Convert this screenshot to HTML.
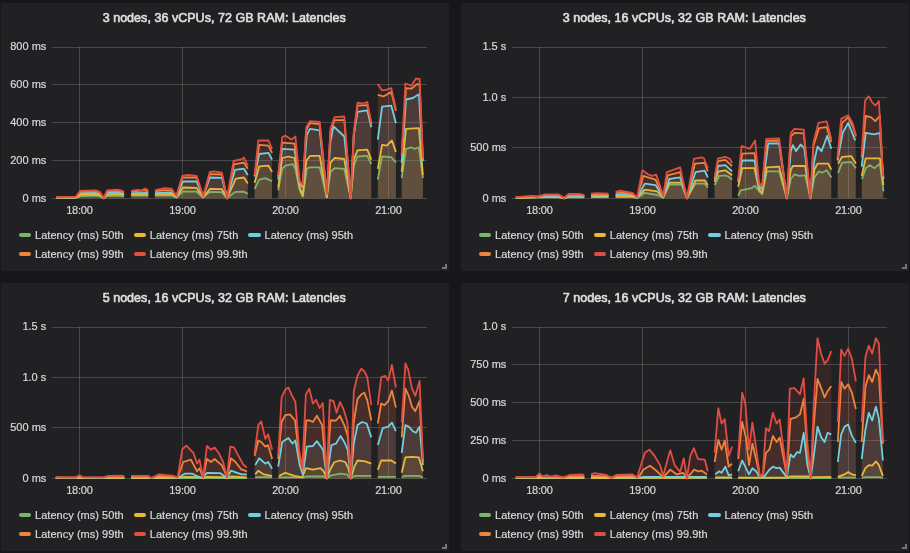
<!DOCTYPE html>
<html><head><meta charset="utf-8"><title>Latencies</title>
<style>
html,body{margin:0;padding:0;background:#161719;}
body{width:910px;height:553px;position:relative;overflow:hidden;font-family:"Liberation Sans",sans-serif;color:#d8d9da;}
.panel{position:absolute;width:447.9px;height:268.2px;background:#212124;border-radius:2px;}
#chart{position:absolute;left:0;top:0;}
.title{position:absolute;text-align:center;font-size:12.5px;line-height:16px;white-space:nowrap;color:#dcddde;-webkit-text-stroke:0.65px #dcddde;letter-spacing:0.035px;}
.yl,.xl,.lg{-webkit-text-stroke:0.2px #d8d9da;}
.yl{position:absolute;width:46.3px;text-align:right;font-size:11px;line-height:14px;white-space:nowrap;}
.xl{position:absolute;width:40px;text-align:center;font-size:11px;line-height:14px;white-space:nowrap;letter-spacing:-0.2px;text-indent:-0.2px;}
.lg{position:absolute;letter-spacing:0.03px;font-size:11px;line-height:14px;white-space:nowrap;padding-left:16.2px;}
.lg i{position:absolute;left:0;top:4.9px;width:12.3px;height:4px;border-radius:2px;}
.rh{position:absolute;}
</style></head><body>
<div class="panel" style="left:1px;top:2.9px"></div><div class="panel" style="left:461px;top:2.9px"></div><div class="panel" style="left:1px;top:282.9px"></div><div class="panel" style="left:461px;top:282.9px"></div>
<svg id="chart" width="910" height="553" viewBox="0 0 910 553">
<g stroke="#fff" stroke-opacity="0.175" stroke-width="1" fill="none" shape-rendering="crispEdges"><line x1="52" x2="427" y1="47.5" y2="47.5"/><line x1="52" x2="427" y1="84.5" y2="84.5"/><line x1="52" x2="427" y1="122.5" y2="122.5"/><line x1="52" x2="427" y1="160.5" y2="160.5"/><line x1="52" x2="427" y1="198.5" y2="198.5"/><line x1="79.5" x2="79.5" y1="47.1" y2="198.3"/><line x1="182.5" x2="182.5" y1="47.1" y2="198.3"/><line x1="285.5" x2="285.5" y1="47.1" y2="198.3"/><line x1="388.5" x2="388.5" y1="47.1" y2="198.3"/></g>
<path d="M56 198.3L56 198L75.8 197.8L81.3 196L95.5 195.7L99.9 196.2L103.7 198.3L107.2 195.7L124.1 196.2L124.1 198.3ZM131.2 198.3L131.2 195.7L148.3 195.7L148.3 198.3ZM154.9 198.3L154.9 195.7L171.4 195.5L176.4 197.5L183 191.4L196.6 191.7L203.2 197.5L209.8 191.9L221.9 192.2L227 198.3L235.1 191.9L243.9 191.7L247.8 193.8L247.8 198.3ZM254.6 198.3L254.6 188.8L259.2 179.6L265.3 178.1L268.4 179.6L272.1 181.1L272.1 198.3ZM278.2 198.3L278.2 190.4L282.2 168.8L285.3 165.7L293 164.2L295.4 168.8L299.7 190.4L302.8 196.6L306.8 168.8L309.9 167.3L319.7 167.3L326.8 197.3L330.5 171.9L334.5 168.2L344.3 168.8L350.7 198.3L353.8 165.7L357.5 156.5L367.3 155.9L371.3 164.2L371.3 198.3ZM377.8 198.3L377.8 179.6L382.1 156.5L391.3 157.1L395.9 162.7L395.9 198.3ZM401.7 198.3L401.7 178.1L406 148.8L411.3 147.3L414.3 148.8L418.9 147.3L422.9 178.1L422.9 198.3Z" fill="#7EB26D" fill-opacity="0.1" stroke="none"/>
<path d="M56 198.3L56 197.8L75.8 197.5L80.6 194.7L95.5 194.5L99.9 195.2L103.7 198.3L107.2 194.5L117.5 194.2L124.1 195.2L124.1 198.3ZM131.2 198.3L131.2 194.5L148.3 194.5L148.3 198.3ZM154.9 198.3L154.9 194.5L171.4 194L176.4 197.3L183 187.5L196.6 187.9L203.2 197.3L209.8 189L221.9 189.2L227 198.3L235.8 178.7L243.9 177.5L247.8 183.6L247.8 198.3ZM254.6 198.3L254.6 182.7L259.2 166.4L268.4 165.7L272.1 171.9L272.1 198.3ZM278.2 198.3L278.2 187.3L282.2 158L288.4 156.5L294.5 158L299.7 187.3L302.8 195.5L306.2 161.1L309.9 155.9L319.7 155.9L326.8 197.3L330.5 162.7L334.5 158L344.3 159L350.7 198.3L353.8 159.6L357.5 150.3L367.3 149.7L371.3 159.6L371.3 198.3ZM377.8 198.3L377.8 168.8L382.1 144.8L386.7 145.7L391.9 140.5L395.9 151.9L395.9 198.3ZM401.7 198.3L401.7 171.9L406 128.8L418.9 128.2L422.9 175L422.9 198.3Z" fill="#EAB839" fill-opacity="0.1" stroke="none"/>
<path d="M56 198.3L56 197.5L75.8 197.3L80.2 193.2L95.5 192.9L99.9 194L103.7 198L107.2 192.9L117.5 192.7L124.1 194L124.1 198.3ZM131.2 198.3L131.2 193.2L148.3 192.9L148.3 198.3ZM154.9 198.3L154.9 193.2L171.4 192.4L176.4 196.7L183 181.5L196.6 181.5L203.2 196.7L209.8 177.5L221.9 177.8L227 198.3L235.1 169.8L243.9 168.7L247.8 175L247.8 198.3ZM254.6 198.3L254.6 176.5L259.2 154L268.4 152.8L272.1 159.6L272.1 198.3ZM278.2 198.3L278.2 179.6L282.2 148.8L294.5 149.7L299.7 184.2L302.8 187.3L306.8 134.9L309.9 128.8L319.7 130.3L326.8 195.5L330.5 141.1L333.5 126.3L344.3 136.5L347.7 168.8L350.7 198.3L353.8 134.9L357.5 111.8L367.3 110.3L371.3 127.2L371.3 198.3ZM377.8 198.3L377.8 139.6L382.1 106.6L391.3 105.7L395.9 123.2L395.9 198.3ZM401.7 198.3L401.7 162.7L406 99.5L412.8 98L418.9 94.3L422.9 161.1L422.9 198.3Z" fill="#6ED0E0" fill-opacity="0.1" stroke="none"/>
<path d="M56 198.3L56 197.3L75.8 197L80.2 191.7L95.5 191.2L99.9 192.7L103.7 198L107.2 191.2L117.5 190.8L124.1 192.7L124.1 198.3ZM131.2 198.3L131.2 191.7L145 190.3L148.3 191.4L148.3 198.3ZM154.9 198.3L154.9 191.4L164.8 190.1L171.4 190.3L176.4 196.2L182.4 177.5L196.6 177.5L203.2 196.5L209.8 174.2L221.9 174.5L227 198.3L234 164.3L243.9 162.6L247.8 168.8L247.8 198.3ZM254.6 198.3L254.6 175.9L259.2 144.8L268.4 145.7L272.1 152.8L272.1 198.3ZM278.2 198.3L278.2 176.5L282.2 142.6L294.5 143.6L299.7 182.7L302.8 185.8L306.2 130.3L309.9 123.2L319.7 124.2L326.8 194.8L330.5 131.2L334.5 120.2L344.3 120.2L350.7 198.3L353.8 134.9L357.5 105.7L367.3 105.1L371.3 124.2L371.3 198.3ZM377.8 198.3L377.8 94.9L383.6 96.4L391.3 91.8L395.9 110.9L395.9 198.3ZM401.7 198.3L401.7 155L406 88.1L411.3 88.7L416.8 84.1L419.6 84.4L422.9 159.6L422.9 198.3Z" fill="#EF843C" fill-opacity="0.1" stroke="none"/>
<path d="M56 198.3L56 197L75.8 196.7L80.2 190.8L95.5 190.3L99.9 191.9L103.7 198L107.2 190.3L117.5 189.7L120.8 190.3L124.1 191.9L124.1 198.3ZM131.2 198.3L131.2 190.8L137.3 189.9L141.7 190.5L145 188.6L148.3 190.3L148.3 198.3ZM154.9 198.3L154.9 190.3L159.3 189.2L164.8 188.1L171.4 188.6L176.4 195.7L182.4 175.8L187.9 174.9L196.6 175.8L203.2 196.2L209.8 172L214.2 171.4L221.9 172.7L227 198.3L233.6 161L242.8 158.8L243.8 157.4L247.8 165.7L247.8 198.3ZM254.6 198.3L254.6 175L258.3 140.5L268.4 140.5L272.1 148.8L272.1 198.3ZM278.2 198.3L278.2 175L282.2 137.4L285.3 135.6L291.4 139.6L295.4 136.5L299.7 181.1L302.8 184.2L306.2 127.2L309.9 121.1L319.7 122L326.8 193.8L330.5 128.8L334.5 117.1L344.3 116.5L350.7 198.3L353.8 131.9L357.5 102.6L362.1 103.5L367.3 102L371.3 122.6L371.3 198.3ZM377.8 198.3L377.8 84.1L382.1 90.3L386.7 89.7L391.3 88.1L395.9 108.8L395.9 198.3ZM401.7 198.3L401.7 153.4L405.4 83.5L411.3 85.7L415.9 78.6L419.6 78.9L422.9 158L422.9 198.3Z" fill="#E24D42" fill-opacity="0.1" stroke="none"/>
<path d="M56 198L75.8 197.8L81.3 196L95.5 195.7L99.9 196.2L103.7 198.3L107.2 195.7L124.1 196.2M131.2 195.7L148.3 195.7M154.9 195.7L171.4 195.5L176.4 197.5L183 191.4L196.6 191.7L203.2 197.5L209.8 191.9L221.9 192.2L227 198.3L235.1 191.9L243.9 191.7L247.8 193.8M254.6 188.8L259.2 179.6L265.3 178.1L268.4 179.6L272.1 181.1M278.2 190.4L282.2 168.8L285.3 165.7L293 164.2L295.4 168.8L299.7 190.4L302.8 196.6L306.8 168.8L309.9 167.3L319.7 167.3L326.8 197.3L330.5 171.9L334.5 168.2L344.3 168.8L350.7 198.3L353.8 165.7L357.5 156.5L367.3 155.9L371.3 164.2M377.8 179.6L382.1 156.5L391.3 157.1L395.9 162.7M401.7 178.1L406 148.8L411.3 147.3L414.3 148.8L418.9 147.3L422.9 178.1" fill="none" stroke="#7EB26D" stroke-width="1.8" stroke-linejoin="round"/>
<path d="M56 197.8L75.8 197.5L80.6 194.7L95.5 194.5L99.9 195.2L103.7 198.3L107.2 194.5L117.5 194.2L124.1 195.2M131.2 194.5L148.3 194.5M154.9 194.5L171.4 194L176.4 197.3L183 187.5L196.6 187.9L203.2 197.3L209.8 189L221.9 189.2L227 198.3L235.8 178.7L243.9 177.5L247.8 183.6M254.6 182.7L259.2 166.4L268.4 165.7L272.1 171.9M278.2 187.3L282.2 158L288.4 156.5L294.5 158L299.7 187.3L302.8 195.5L306.2 161.1L309.9 155.9L319.7 155.9L326.8 197.3L330.5 162.7L334.5 158L344.3 159L350.7 198.3L353.8 159.6L357.5 150.3L367.3 149.7L371.3 159.6M377.8 168.8L382.1 144.8L386.7 145.7L391.9 140.5L395.9 151.9M401.7 171.9L406 128.8L418.9 128.2L422.9 175" fill="none" stroke="#EAB839" stroke-width="1.8" stroke-linejoin="round"/>
<path d="M56 197.5L75.8 197.3L80.2 193.2L95.5 192.9L99.9 194L103.7 198L107.2 192.9L117.5 192.7L124.1 194M131.2 193.2L148.3 192.9M154.9 193.2L171.4 192.4L176.4 196.7L183 181.5L196.6 181.5L203.2 196.7L209.8 177.5L221.9 177.8L227 198.3L235.1 169.8L243.9 168.7L247.8 175M254.6 176.5L259.2 154L268.4 152.8L272.1 159.6M278.2 179.6L282.2 148.8L294.5 149.7L299.7 184.2L302.8 187.3L306.8 134.9L309.9 128.8L319.7 130.3L326.8 195.5L330.5 141.1L333.5 126.3L344.3 136.5L347.7 168.8L350.7 198.3L353.8 134.9L357.5 111.8L367.3 110.3L371.3 127.2M377.8 139.6L382.1 106.6L391.3 105.7L395.9 123.2M401.7 162.7L406 99.5L412.8 98L418.9 94.3L422.9 161.1" fill="none" stroke="#6ED0E0" stroke-width="1.8" stroke-linejoin="round"/>
<path d="M56 197.3L75.8 197L80.2 191.7L95.5 191.2L99.9 192.7L103.7 198L107.2 191.2L117.5 190.8L124.1 192.7M131.2 191.7L145 190.3L148.3 191.4M154.9 191.4L164.8 190.1L171.4 190.3L176.4 196.2L182.4 177.5L196.6 177.5L203.2 196.5L209.8 174.2L221.9 174.5L227 198.3L234 164.3L243.9 162.6L247.8 168.8M254.6 175.9L259.2 144.8L268.4 145.7L272.1 152.8M278.2 176.5L282.2 142.6L294.5 143.6L299.7 182.7L302.8 185.8L306.2 130.3L309.9 123.2L319.7 124.2L326.8 194.8L330.5 131.2L334.5 120.2L344.3 120.2L350.7 198.3L353.8 134.9L357.5 105.7L367.3 105.1L371.3 124.2M377.8 94.9L383.6 96.4L391.3 91.8L395.9 110.9M401.7 155L406 88.1L411.3 88.7L416.8 84.1L419.6 84.4L422.9 159.6" fill="none" stroke="#EF843C" stroke-width="1.8" stroke-linejoin="round"/>
<path d="M56 197L75.8 196.7L80.2 190.8L95.5 190.3L99.9 191.9L103.7 198L107.2 190.3L117.5 189.7L120.8 190.3L124.1 191.9M131.2 190.8L137.3 189.9L141.7 190.5L145 188.6L148.3 190.3M154.9 190.3L159.3 189.2L164.8 188.1L171.4 188.6L176.4 195.7L182.4 175.8L187.9 174.9L196.6 175.8L203.2 196.2L209.8 172L214.2 171.4L221.9 172.7L227 198.3L233.6 161L242.8 158.8L243.8 157.4L247.8 165.7M254.6 175L258.3 140.5L268.4 140.5L272.1 148.8M278.2 175L282.2 137.4L285.3 135.6L291.4 139.6L295.4 136.5L299.7 181.1L302.8 184.2L306.2 127.2L309.9 121.1L319.7 122L326.8 193.8L330.5 128.8L334.5 117.1L344.3 116.5L350.7 198.3L353.8 131.9L357.5 102.6L362.1 103.5L367.3 102L371.3 122.6M377.8 84.1L382.1 90.3L386.7 89.7L391.3 88.1L395.9 108.8M401.7 153.4L405.4 83.5L411.3 85.7L415.9 78.6L419.6 78.9L422.9 158" fill="none" stroke="#E24D42" stroke-width="1.8" stroke-linejoin="round"/>
<g stroke="#fff" stroke-opacity="0.175" stroke-width="1" fill="none" shape-rendering="crispEdges"><line x1="512" x2="887" y1="47.5" y2="47.5"/><line x1="512" x2="887" y1="97.5" y2="97.5"/><line x1="512" x2="887" y1="147.5" y2="147.5"/><line x1="512" x2="887" y1="198.5" y2="198.5"/><line x1="539.5" x2="539.5" y1="47.1" y2="198.3"/><line x1="642.5" x2="642.5" y1="47.1" y2="198.3"/><line x1="745.5" x2="745.5" y1="47.1" y2="198.3"/><line x1="848.5" x2="848.5" y1="47.1" y2="198.3"/></g>
<path d="M515.8 198.3L515.8 198L544.9 197.4L558.8 197.4L564 198.3L568.6 197.1L584.3 197.4L584.3 198.3ZM591 198.3L591 197.1L608.5 197.1L608.5 198.3ZM615.6 198.3L615.6 197.1L632.5 197.1L637.1 198L644.8 192.8L657.1 195L663.2 197.7L669.4 184.5L681.7 184.5L686.9 198.3L695.5 183.6L704.7 183.6L707.8 187.6L707.8 198.3ZM714.6 198.3L714.6 185.1L719.2 175.9L725.3 175.3L728.4 176.5L732.1 179.6L732.1 198.3ZM738.2 198.3L738.2 195.9L740.7 190.3L746.8 189.1L751.4 188.2L755.1 185.7L759.1 191.3L762.2 194.4L766.8 171.3L779.1 171.3L786.8 198.3L790.8 179L794.5 174.3L799.1 175.9L805.2 175.3L810.4 198.3L814.4 177.4L819 171.3L822.1 172.8L826.7 170.3L831.3 177.4L831.3 198.3ZM838.1 198.3L838.1 172.8L842.1 162.6L851.3 162L855.9 168.2L855.9 198.3ZM862 198.3L862 179L865.7 168.2L869.7 165.1L874.3 168.2L879.9 163.6L883.5 191.3L883.5 198.3Z" fill="#7EB26D" fill-opacity="0.1" stroke="none"/>
<path d="M515.8 198.3L515.8 198L544.9 196.8L558.8 196.8L564 198.3L568.6 196.5L584.3 196.8L584.3 198.3ZM591 198.3L591 196.5L608.5 196.5L608.5 198.3ZM615.6 198.3L615.6 196.2L632.5 196.2L637.1 198L644.8 189.7L657.1 191.3L663.2 197.4L669.4 182.6L681.7 182.6L686.9 198.3L695.5 180.5L704.7 180.5L707.8 185.1L707.8 198.3ZM714.6 198.3L714.6 182L718.6 171.3L725.3 170.3L732.1 175.3L732.1 198.3ZM738.2 198.3L738.2 186.7L742.2 168.2L754.5 168.2L759.1 189.7L762.2 192.8L766.8 167.3L779.1 166.6L786.8 198.3L790.8 169.7L792.9 166L805.2 166L810.4 198.3L814.4 169.7L817.5 163.6L828.2 163.6L831.3 169.7L831.3 198.3ZM838.1 198.3L838.1 163.6L842.1 156.8L851.3 156.2L855.9 163.6L855.9 198.3ZM861.7 198.3L861.7 175.9L865.7 158.3L879.9 158.3L883.5 185.1L883.5 198.3Z" fill="#EAB839" fill-opacity="0.1" stroke="none"/>
<path d="M515.8 198.3L515.8 197.7L544.9 196.2L558.8 196.2L564 198L568.6 195.9L584.3 196.2L584.3 198.3ZM591 198.3L591 195.6L608.5 195.6L608.5 198.3ZM615.6 198.3L615.6 195L620.2 194.4L632.5 195.3L637.1 197.7L644.8 183.6L655.5 185.1L663.2 196.8L669.4 179L680.1 177.4L686.9 198.3L695.5 172.2L704.7 170.6L707.8 177.4L707.8 198.3ZM714.6 198.3L714.6 179.6L718.3 166L725.3 165.1L732.1 171.3L732.1 198.3ZM738.2 198.3L738.2 182L742.2 160.5L754.5 160.5L759.1 187.6L762.2 188.8L768.3 143.5L779.1 143.5L786.8 198.3L790.8 151.2L792.9 145.1L796 151.2L800.6 144.5L804.3 148.2L810.4 198.3L814.4 160.5L817.5 146.6L821.5 151.2L827.3 135.8L831.3 148.8L831.3 198.3ZM837.5 198.3L837.5 160.5L842.7 132.8L848.2 122.9L855.3 140.5L855.3 198.3ZM861.7 198.3L861.7 166.6L865.7 132.8L874.3 134.3L879.9 132.8L883.5 179L883.5 198.3Z" fill="#6ED0E0" fill-opacity="0.1" stroke="none"/>
<path d="M515.8 198.3L515.8 197.4L532.6 196.5L537.3 197.1L544.9 195.3L558.8 195.3L564 198L568.6 195L584.3 195.6L584.3 198.3ZM591 198.3L591 194.7L608.5 194.7L608.5 198.3ZM615.6 198.3L615.6 193.4L620.2 192.5L632.5 194L637.1 197.7L643.2 175.9L655.5 179.6L663.2 196.5L667.8 175.3L680.1 172.2L686.9 198.3L694.9 163.6L704.7 162.9L707.8 171.3L707.8 198.3ZM714.6 198.3L714.6 178.3L718 161.1L725.3 159.9L732.1 166L732.1 198.3ZM738.2 198.3L738.2 180.5L742.2 153.7L754.5 153.1L759.1 184.5L762.2 186.7L766.8 140.8L779.1 140.5L786.8 198.3L790.8 136.5L794.5 132.8L803.7 133.4L810.4 198.3L813.5 145.1L819 128.1L826.7 127.2L831.3 142L831.3 198.3ZM837.5 198.3L837.5 158.9L842.1 122.9L848.2 117.4L852.8 126.6L855.9 136.5L855.9 198.3ZM861.7 198.3L861.7 157.4L865.7 115.8L871.3 117.4L875.3 121.1L879.9 115.8L882.9 177.4L882.9 198.3Z" fill="#EF843C" fill-opacity="0.1" stroke="none"/>
<path d="M515.8 198.3L515.8 197.1L532.6 195.9L537.3 196.8L544.9 194.4L558.8 194.4L564 198L568.6 194L580.3 194L584.3 195L584.3 198.3ZM591 198.3L591 193.7L597.2 193.1L608.5 193.7L608.5 198.3ZM615.6 198.3L615.6 191.9L620.2 190.7L632.5 192.8L637.1 197.4L642.3 170.3L647.9 174.3L652.5 175.9L656.2 174.6L663.2 195.9L666.9 172.2L674 169.7L680.1 167.3L686.9 198.3L693.9 158.9L701.6 157.4L703.8 158L707.8 168.2L707.8 198.3ZM714.6 198.3L714.6 177.4L718 158.3L725.3 156.8L729.9 158.9L732.1 162.9L732.1 198.3ZM738.2 198.3L738.2 179L741.6 146L749.9 148.8L755.1 140.5L759.1 183.6L762.2 185.1L766.2 138.9L779.1 138.3L786.8 198.3L790.8 132.8L794.5 128.8L803.7 129.7L810.4 198.3L813.5 142L818.4 122.9L826.7 121.4L831.3 138.9L831.3 198.3ZM837.5 198.3L837.5 157.4L841.2 118.9L848.2 115.2L852.8 123.5L855.9 135.8L855.9 198.3ZM861.7 198.3L861.7 154.3L865.1 100.4L868.8 96.4L871.9 102L875.3 105.7L878.9 101L882.9 175.9L882.9 198.3Z" fill="#E24D42" fill-opacity="0.1" stroke="none"/>
<path d="M515.8 198L544.9 197.4L558.8 197.4L564 198.3L568.6 197.1L584.3 197.4M591 197.1L608.5 197.1M615.6 197.1L632.5 197.1L637.1 198L644.8 192.8L657.1 195L663.2 197.7L669.4 184.5L681.7 184.5L686.9 198.3L695.5 183.6L704.7 183.6L707.8 187.6M714.6 185.1L719.2 175.9L725.3 175.3L728.4 176.5L732.1 179.6M738.2 195.9L740.7 190.3L746.8 189.1L751.4 188.2L755.1 185.7L759.1 191.3L762.2 194.4L766.8 171.3L779.1 171.3L786.8 198.3L790.8 179L794.5 174.3L799.1 175.9L805.2 175.3L810.4 198.3L814.4 177.4L819 171.3L822.1 172.8L826.7 170.3L831.3 177.4M838.1 172.8L842.1 162.6L851.3 162L855.9 168.2M862 179L865.7 168.2L869.7 165.1L874.3 168.2L879.9 163.6L883.5 191.3" fill="none" stroke="#7EB26D" stroke-width="1.8" stroke-linejoin="round"/>
<path d="M515.8 198L544.9 196.8L558.8 196.8L564 198.3L568.6 196.5L584.3 196.8M591 196.5L608.5 196.5M615.6 196.2L632.5 196.2L637.1 198L644.8 189.7L657.1 191.3L663.2 197.4L669.4 182.6L681.7 182.6L686.9 198.3L695.5 180.5L704.7 180.5L707.8 185.1M714.6 182L718.6 171.3L725.3 170.3L732.1 175.3M738.2 186.7L742.2 168.2L754.5 168.2L759.1 189.7L762.2 192.8L766.8 167.3L779.1 166.6L786.8 198.3L790.8 169.7L792.9 166L805.2 166L810.4 198.3L814.4 169.7L817.5 163.6L828.2 163.6L831.3 169.7M838.1 163.6L842.1 156.8L851.3 156.2L855.9 163.6M861.7 175.9L865.7 158.3L879.9 158.3L883.5 185.1" fill="none" stroke="#EAB839" stroke-width="1.8" stroke-linejoin="round"/>
<path d="M515.8 197.7L544.9 196.2L558.8 196.2L564 198L568.6 195.9L584.3 196.2M591 195.6L608.5 195.6M615.6 195L620.2 194.4L632.5 195.3L637.1 197.7L644.8 183.6L655.5 185.1L663.2 196.8L669.4 179L680.1 177.4L686.9 198.3L695.5 172.2L704.7 170.6L707.8 177.4M714.6 179.6L718.3 166L725.3 165.1L732.1 171.3M738.2 182L742.2 160.5L754.5 160.5L759.1 187.6L762.2 188.8L768.3 143.5L779.1 143.5L786.8 198.3L790.8 151.2L792.9 145.1L796 151.2L800.6 144.5L804.3 148.2L810.4 198.3L814.4 160.5L817.5 146.6L821.5 151.2L827.3 135.8L831.3 148.8M837.5 160.5L842.7 132.8L848.2 122.9L855.3 140.5M861.7 166.6L865.7 132.8L874.3 134.3L879.9 132.8L883.5 179" fill="none" stroke="#6ED0E0" stroke-width="1.8" stroke-linejoin="round"/>
<path d="M515.8 197.4L532.6 196.5L537.3 197.1L544.9 195.3L558.8 195.3L564 198L568.6 195L584.3 195.6M591 194.7L608.5 194.7M615.6 193.4L620.2 192.5L632.5 194L637.1 197.7L643.2 175.9L655.5 179.6L663.2 196.5L667.8 175.3L680.1 172.2L686.9 198.3L694.9 163.6L704.7 162.9L707.8 171.3M714.6 178.3L718 161.1L725.3 159.9L732.1 166M738.2 180.5L742.2 153.7L754.5 153.1L759.1 184.5L762.2 186.7L766.8 140.8L779.1 140.5L786.8 198.3L790.8 136.5L794.5 132.8L803.7 133.4L810.4 198.3L813.5 145.1L819 128.1L826.7 127.2L831.3 142M837.5 158.9L842.1 122.9L848.2 117.4L852.8 126.6L855.9 136.5M861.7 157.4L865.7 115.8L871.3 117.4L875.3 121.1L879.9 115.8L882.9 177.4" fill="none" stroke="#EF843C" stroke-width="1.8" stroke-linejoin="round"/>
<path d="M515.8 197.1L532.6 195.9L537.3 196.8L544.9 194.4L558.8 194.4L564 198L568.6 194L580.3 194L584.3 195M591 193.7L597.2 193.1L608.5 193.7M615.6 191.9L620.2 190.7L632.5 192.8L637.1 197.4L642.3 170.3L647.9 174.3L652.5 175.9L656.2 174.6L663.2 195.9L666.9 172.2L674 169.7L680.1 167.3L686.9 198.3L693.9 158.9L701.6 157.4L703.8 158L707.8 168.2M714.6 177.4L718 158.3L725.3 156.8L729.9 158.9L732.1 162.9M738.2 179L741.6 146L749.9 148.8L755.1 140.5L759.1 183.6L762.2 185.1L766.2 138.9L779.1 138.3L786.8 198.3L790.8 132.8L794.5 128.8L803.7 129.7L810.4 198.3L813.5 142L818.4 122.9L826.7 121.4L831.3 138.9M837.5 157.4L841.2 118.9L848.2 115.2L852.8 123.5L855.9 135.8M861.7 154.3L865.1 100.4L868.8 96.4L871.9 102L875.3 105.7L878.9 101L882.9 175.9" fill="none" stroke="#E24D42" stroke-width="1.8" stroke-linejoin="round"/>
<g stroke="#fff" stroke-opacity="0.175" stroke-width="1" fill="none" shape-rendering="crispEdges"><line x1="52" x2="427" y1="327.5" y2="327.5"/><line x1="52" x2="427" y1="377.5" y2="377.5"/><line x1="52" x2="427" y1="427.5" y2="427.5"/><line x1="52" x2="427" y1="478.5" y2="478.5"/><line x1="79.5" x2="79.5" y1="327.1" y2="478.4"/><line x1="182.5" x2="182.5" y1="327.1" y2="478.4"/><line x1="285.5" x2="285.5" y1="327.1" y2="478.4"/><line x1="388.5" x2="388.5" y1="327.1" y2="478.4"/></g>
<path d="M55.8 478.4L55.8 478.2L124.3 478.2L124.3 478.4ZM131 478.4L131 478.2L244.7 478L246.9 478L246.9 478.4ZM255.2 478.4L255.2 477.1L272.1 477.1L272.1 478.4ZM278.2 478.4L278.2 477.4L303.7 477.4L305.9 476.5L323.7 476.5L326.8 478.4L331.4 475.3L340.6 473.7L346.7 474.4L350.7 478.4L354.4 475.9L371.3 475.9L371.3 478.4ZM377.8 478.4L377.8 476.8L395.9 476.8L395.9 478.4ZM401.7 478.4L401.7 476.8L405.4 475.9L418.9 475.9L422.9 477.4L422.9 478.4Z" fill="#7EB26D" fill-opacity="0.1" stroke="none"/>
<path d="M55.8 478.4L55.8 478L124.3 478L124.3 478.4ZM131 478.4L131 478L177.7 478L184.8 476.8L198.6 477.1L203.2 478.4L206.9 476.8L223.2 477.1L226.9 478.4L230.9 476.5L243.2 477.1L246.9 477.4L246.9 478.4ZM255.2 478.4L255.2 474.4L258.3 470.7L263.8 474.4L272.1 475.9L272.1 478.4ZM279.2 478.4L279.2 475.9L285.3 472.8L294.5 475.9L302.2 477.4L305.9 468.2L312.9 469.7L320.6 468.2L323.7 471.3L326.8 478.4L330.8 468.2L334.5 462L340 460.5L345.2 462L348.3 468.2L350.7 478.4L354.4 466.7L357.5 460.5L365.2 461.4L371.3 463.6L371.3 478.4ZM377.8 478.4L377.8 469.7L381.2 460.5L391.3 460.5L395.9 463.6L395.9 478.4ZM401.7 478.4L401.7 472.8L405.4 457.4L411.3 456.8L418.9 457.4L422.9 471.3L422.9 478.4Z" fill="#EAB839" fill-opacity="0.1" stroke="none"/>
<path d="M55.8 478.4L55.8 477.7L75.7 478L79.4 477.1L82.8 477.7L103.4 478L108 477.4L124.3 477.4L124.3 478.4ZM131 478.4L131 477.4L147.9 477.4L151.6 478L158.7 477.1L172.5 477.4L177.7 478L184.8 473.7L192.5 473.7L197.1 476.2L203.2 478L206.9 472.8L220.1 473.1L226.9 478L230.9 470.7L241.6 474.4L246.9 474.4L246.9 478.4ZM255.2 478.4L255.2 465.1L259.2 458.3L265.3 463.6L268.1 462L272.1 468.8L272.1 478.4ZM278.2 478.4L278.2 466.7L282.2 442L288.4 438L292.4 443.6L295.4 440.5L299.7 465.1L302.8 474.4L306.8 446.6L312.9 446L316.9 441.1L323.1 449.7L326.8 478.4L331.4 445.1L336 443.6L340.6 435.9L344.3 442L347.7 449.7L350.7 478.4L353.8 443.6L357.5 425.1L362.1 422L366.7 423.5L371.3 437.4L371.3 478.4ZM377.8 478.4L377.8 445.1L382.7 428.2L388.2 426.6L391.9 422.6L395.9 431.2L395.9 478.4ZM401.7 478.4L401.7 452.8L405.4 425.1L408.8 426.6L412.8 431.2L415.9 432.8L419.6 426.6L422.9 465.1L422.9 478.4Z" fill="#6ED0E0" fill-opacity="0.1" stroke="none"/>
<path d="M55.8 478.4L55.8 477.4L75.7 477.7L79.4 476.2L82.8 477.4L103.4 477.7L108 476.8L124.3 476.8L124.3 478.4ZM131 478.4L131 476.8L147.9 476.8L151.6 478L158.7 475.9L172.5 476.5L177.7 477.7L183.2 462L190.9 459.6L197.1 471.3L199.5 468.2L203.2 478L206.9 459L210.9 462L214.6 459L221.7 465.1L224.7 471.3L226.9 478L230.9 458.3L235.5 462L241.6 469.7L242.3 469.7L246.9 471.3L246.9 478.4ZM254.6 478.4L254.6 455.9L258.3 440.5L261.3 442L265.3 446.6L268.1 445.1L272.1 459L272.1 478.4ZM278.2 478.4L278.2 459L281.6 422L285.3 415.2L289.9 414.3L295.1 420.5L299.1 455.9L302.8 471.3L306.2 420.5L309.9 420.5L312.9 422L316.9 415.8L322.2 425.1L326.8 478.4L330.5 420.5L336 420.5L340 415.8L344.3 425.1L347.7 435.9L350.7 478.4L353.8 422L357.5 398.9L361.5 394.3L364.3 392.7L367.3 400.4L371.3 420.5L371.3 478.4ZM377.8 478.4L377.8 423.5L381.2 403.5L384.5 405.1L388.2 401.1L391.9 390.6L395.9 407.5L395.9 478.4ZM401.7 478.4L401.7 437.4L405.4 388.7L408.8 395.8L411.9 406.6L415.3 411.2L419.6 401.1L422.9 462L422.9 478.4Z" fill="#EF843C" fill-opacity="0.1" stroke="none"/>
<path d="M55.8 478.4L55.8 477.1L63.4 477.4L75.7 477.4L79.4 475.3L82.8 477.1L103.4 477.4L108 475.9L120.3 475.6L124.3 476.2L124.3 478.4ZM131 478.4L131 475.9L147.9 475.9L151.6 478L158.7 474.4L172.5 475.6L177.7 477.4L182.3 449.1L186.3 445.7L193.4 452.8L197.1 463.6L199.5 459.6L203.2 477.4L206.9 446L210.9 449.7L214.6 447.6L218.6 452.8L223.2 462L226.9 477.4L230.3 446.6L233.9 447.3L238.5 455.9L243.2 464.5L246.9 467.6L246.9 478.4ZM254.6 478.4L254.6 452.8L258.3 425.1L261.3 421.4L265.3 438.9L268.1 434.3L272.1 449.7L272.1 478.4ZM278.2 478.4L278.2 455.9L281.6 397.4L285.3 389.7L288.4 387.5L292.1 395.8L295.4 402L299.1 449.7L302.2 468.2L305.9 394.3L309.3 388.7L312.9 403.5L316 399.8L319.7 408.1L322.8 402.9L326.8 478.4L329.8 399.8L333.5 401.1L336.6 412.8L340 402L343.7 409.7L347.4 422L350.7 478.4L353.8 391.2L357.5 375.8L361.2 368.7L364.3 371.2L367.3 377.3L371.3 405.1L371.3 478.4ZM377.8 478.4L377.8 405.1L381.2 377.3L385.1 375.8L388.2 380.4L391.9 365L395.9 387.5L395.9 478.4ZM401.7 478.4L401.7 422L405.4 363.5L408.2 369.6L411.9 388.1L415.3 395.8L419.6 381L422.9 459L422.9 478.4Z" fill="#E24D42" fill-opacity="0.1" stroke="none"/>
<path d="M55.8 478.2L124.3 478.2M131 478.2L244.7 478L246.9 478M255.2 477.1L272.1 477.1M278.2 477.4L303.7 477.4L305.9 476.5L323.7 476.5L326.8 478.4L331.4 475.3L340.6 473.7L346.7 474.4L350.7 478.4L354.4 475.9L371.3 475.9M377.8 476.8L395.9 476.8M401.7 476.8L405.4 475.9L418.9 475.9L422.9 477.4" fill="none" stroke="#7EB26D" stroke-width="1.8" stroke-linejoin="round"/>
<path d="M55.8 478L124.3 478M131 478L177.7 478L184.8 476.8L198.6 477.1L203.2 478.4L206.9 476.8L223.2 477.1L226.9 478.4L230.9 476.5L243.2 477.1L246.9 477.4M255.2 474.4L258.3 470.7L263.8 474.4L272.1 475.9M279.2 475.9L285.3 472.8L294.5 475.9L302.2 477.4L305.9 468.2L312.9 469.7L320.6 468.2L323.7 471.3L326.8 478.4L330.8 468.2L334.5 462L340 460.5L345.2 462L348.3 468.2L350.7 478.4L354.4 466.7L357.5 460.5L365.2 461.4L371.3 463.6M377.8 469.7L381.2 460.5L391.3 460.5L395.9 463.6M401.7 472.8L405.4 457.4L411.3 456.8L418.9 457.4L422.9 471.3" fill="none" stroke="#EAB839" stroke-width="1.8" stroke-linejoin="round"/>
<path d="M55.8 477.7L75.7 478L79.4 477.1L82.8 477.7L103.4 478L108 477.4L124.3 477.4M131 477.4L147.9 477.4L151.6 478L158.7 477.1L172.5 477.4L177.7 478L184.8 473.7L192.5 473.7L197.1 476.2L203.2 478L206.9 472.8L220.1 473.1L226.9 478L230.9 470.7L241.6 474.4L246.9 474.4M255.2 465.1L259.2 458.3L265.3 463.6L268.1 462L272.1 468.8M278.2 466.7L282.2 442L288.4 438L292.4 443.6L295.4 440.5L299.7 465.1L302.8 474.4L306.8 446.6L312.9 446L316.9 441.1L323.1 449.7L326.8 478.4L331.4 445.1L336 443.6L340.6 435.9L344.3 442L347.7 449.7L350.7 478.4L353.8 443.6L357.5 425.1L362.1 422L366.7 423.5L371.3 437.4M377.8 445.1L382.7 428.2L388.2 426.6L391.9 422.6L395.9 431.2M401.7 452.8L405.4 425.1L408.8 426.6L412.8 431.2L415.9 432.8L419.6 426.6L422.9 465.1" fill="none" stroke="#6ED0E0" stroke-width="1.8" stroke-linejoin="round"/>
<path d="M55.8 477.4L75.7 477.7L79.4 476.2L82.8 477.4L103.4 477.7L108 476.8L124.3 476.8M131 476.8L147.9 476.8L151.6 478L158.7 475.9L172.5 476.5L177.7 477.7L183.2 462L190.9 459.6L197.1 471.3L199.5 468.2L203.2 478L206.9 459L210.9 462L214.6 459L221.7 465.1L224.7 471.3L226.9 478L230.9 458.3L235.5 462L241.6 469.7L242.3 469.7L246.9 471.3M254.6 455.9L258.3 440.5L261.3 442L265.3 446.6L268.1 445.1L272.1 459M278.2 459L281.6 422L285.3 415.2L289.9 414.3L295.1 420.5L299.1 455.9L302.8 471.3L306.2 420.5L309.9 420.5L312.9 422L316.9 415.8L322.2 425.1L326.8 478.4L330.5 420.5L336 420.5L340 415.8L344.3 425.1L347.7 435.9L350.7 478.4L353.8 422L357.5 398.9L361.5 394.3L364.3 392.7L367.3 400.4L371.3 420.5M377.8 423.5L381.2 403.5L384.5 405.1L388.2 401.1L391.9 390.6L395.9 407.5M401.7 437.4L405.4 388.7L408.8 395.8L411.9 406.6L415.3 411.2L419.6 401.1L422.9 462" fill="none" stroke="#EF843C" stroke-width="1.8" stroke-linejoin="round"/>
<path d="M55.8 477.1L63.4 477.4L75.7 477.4L79.4 475.3L82.8 477.1L103.4 477.4L108 475.9L120.3 475.6L124.3 476.2M131 475.9L147.9 475.9L151.6 478L158.7 474.4L172.5 475.6L177.7 477.4L182.3 449.1L186.3 445.7L193.4 452.8L197.1 463.6L199.5 459.6L203.2 477.4L206.9 446L210.9 449.7L214.6 447.6L218.6 452.8L223.2 462L226.9 477.4L230.3 446.6L233.9 447.3L238.5 455.9L243.2 464.5L246.9 467.6M254.6 452.8L258.3 425.1L261.3 421.4L265.3 438.9L268.1 434.3L272.1 449.7M278.2 455.9L281.6 397.4L285.3 389.7L288.4 387.5L292.1 395.8L295.4 402L299.1 449.7L302.2 468.2L305.9 394.3L309.3 388.7L312.9 403.5L316 399.8L319.7 408.1L322.8 402.9L326.8 478.4L329.8 399.8L333.5 401.1L336.6 412.8L340 402L343.7 409.7L347.4 422L350.7 478.4L353.8 391.2L357.5 375.8L361.2 368.7L364.3 371.2L367.3 377.3L371.3 405.1M377.8 405.1L381.2 377.3L385.1 375.8L388.2 380.4L391.9 365L395.9 387.5M401.7 422L405.4 363.5L408.2 369.6L411.9 388.1L415.3 395.8L419.6 381L422.9 459" fill="none" stroke="#E24D42" stroke-width="1.8" stroke-linejoin="round"/>
<g stroke="#fff" stroke-opacity="0.175" stroke-width="1" fill="none" shape-rendering="crispEdges"><line x1="512" x2="887" y1="327.5" y2="327.5"/><line x1="512" x2="887" y1="364.5" y2="364.5"/><line x1="512" x2="887" y1="402.5" y2="402.5"/><line x1="512" x2="887" y1="440.5" y2="440.5"/><line x1="512" x2="887" y1="478.5" y2="478.5"/><line x1="539.5" x2="539.5" y1="327.1" y2="478.4"/><line x1="642.5" x2="642.5" y1="327.1" y2="478.4"/><line x1="745.5" x2="745.5" y1="327.1" y2="478.4"/><line x1="848.5" x2="848.5" y1="327.1" y2="478.4"/></g>
<path d="M515.8 478.4L515.8 478.2L584.3 478.2L584.3 478.4ZM591 478.4L591 478.2L704.7 478.2L706.9 478.2L706.9 478.4ZM715.2 478.4L715.2 478L732.1 478L732.1 478.4ZM738.2 478.4L738.2 478.2L831.3 478L831.3 478.4ZM837.8 478.4L837.8 477.7L855.9 477.7L855.9 478.4ZM861.7 478.4L861.7 477.7L865.4 477.1L878.9 477.1L882.9 477.7L882.9 478.4Z" fill="#7EB26D" fill-opacity="0.1" stroke="none"/>
<path d="M515.8 478.4L515.8 478L584.3 478L584.3 478.4ZM591 478.4L591 478L704.7 477.7L706.9 477.7L706.9 478.4ZM715.2 478.4L715.2 477.4L732.1 477.4L732.1 478.4ZM738.2 478.4L738.2 477.7L786.8 477.7L789.8 476.5L808.3 476.5L810.7 478.4L813.8 477.1L831.3 476.8L831.3 478.4ZM837.8 478.4L837.8 476.8L844.5 474.4L848.2 471.9L851.9 474.4L855.9 475.3L855.9 478.4ZM861.7 478.4L861.7 475.9L865.4 468.2L868.8 465.1L872.2 465.7L875.9 461.4L878.9 465.1L882.9 475.9L882.9 478.4Z" fill="#EAB839" fill-opacity="0.1" stroke="none"/>
<path d="M515.8 478.4L515.8 477.7L535.7 477.7L539.4 476.8L542.8 477.7L584.3 477.4L584.3 478.4ZM591 478.4L591 477.1L638.6 477.7L644.8 476.8L704.7 476.8L706.9 477.1L706.9 478.4ZM715.2 478.4L715.2 474.4L719.2 471.3L721.6 472.8L725.3 466.7L728.7 475.3L732.1 474.4L732.1 478.4ZM738.2 478.4L738.2 471.3L742.2 460.5L745.3 466.7L749 474.4L752.4 468.2L756.1 471.3L760 477.4L763.7 477.4L769.3 469.7L772.9 466.7L776.6 468.2L779.7 467.6L786.8 477.4L790.5 454.3L793.5 457.4L796.9 452.2L800 452.8L803.7 432.8L807.4 465.1L810.7 478.4L813.8 455.9L817.5 426.6L821.2 437.4L824.6 442L827.6 432.8L831.3 434.3L831.3 478.4ZM837.8 478.4L837.8 462L841.2 434.3L844.5 426.6L848.2 424.5L851.9 435.9L855.9 442.9L855.9 478.4ZM861.7 478.4L861.7 459L865.4 429.7L868.8 412.8L872.2 420.5L875.9 406.6L878.9 418.9L882.9 460.5L882.9 478.4Z" fill="#6ED0E0" fill-opacity="0.1" stroke="none"/>
<path d="M515.8 478.4L515.8 477.4L535.7 477.4L539.4 475.3L542.8 477.1L563.4 477.7L569.5 476.2L584.3 476.2L584.3 478.4ZM591 478.4L591 475.9L606.4 476.2L611.6 478L616.2 476.2L632.5 475.9L638.6 477.4L643.2 469.7L650 465.7L657.1 471.3L663.2 477.4L670.3 469.7L677 474.4L683.2 472.8L686.9 478.4L693.9 469.7L698.5 471.3L701.6 470.7L704.7 472.8L706.9 474.4L706.9 478.4ZM714.6 478.4L714.6 462L718.3 439.9L721.6 449.7L724.7 440.5L728.7 466.7L732.1 463.6L732.1 478.4ZM738.2 478.4L738.2 459L742.2 422L745.9 437.4L749 465.1L752.4 443.6L756.1 459L760 476.8L762.8 475.9L765.9 452.8L769.3 449.7L772.9 435.9L776.6 442L779.7 437.4L786.8 475.9L790.5 418.9L796 417.4L800 414.3L803.7 398.9L807.4 452.8L810.7 478.4L813.8 425.1L817.5 378.9L821.2 388.1L824.6 397.4L827.6 391.2L831.3 386L831.3 478.4ZM837.8 478.4L837.8 442L841.2 382L844.5 388.7L848.2 384.4L851.9 392.7L855.9 409.1L855.9 478.4ZM861.7 478.4L861.7 442L865.4 386.6L868.8 375.2L872.2 382L875.9 369.6L878.9 375.8L882.9 443.6L882.9 478.4Z" fill="#EF843C" fill-opacity="0.1" stroke="none"/>
<path d="M515.8 478.4L515.8 477.1L535.7 477.1L539.4 473.4L542.8 476.5L546.5 475L551.1 476.5L555.7 475.3L563.4 477.4L569.5 475L581.8 474.4L584.3 475L584.3 478.4ZM591 478.4L591 474.4L594.7 473.1L606.4 475L611.6 478L616.2 475L632.5 474.4L637.1 477.4L644.8 452.8L649.4 449.7L654.6 455.9L660.1 465.1L663.2 475.9L666.9 462L670.3 450.3L674.6 465.1L680.1 471.9L683.8 458.3L686.9 478.4L690.3 455.9L693.9 448.2L697.9 459L704.7 459.6L707.8 471.3L707.8 478.4ZM714.6 478.4L714.6 452.8L718.3 408.1L721.6 423.5L724.7 418.9L728.7 455.9L732.1 446.6L732.1 478.4ZM738.2 478.4L738.2 455.9L742.2 392.7L745.3 403.5L749 449.7L752.4 422.6L755.4 443.6L760 475.9L762.8 474.4L765.9 428.2L769 431.2L772.9 412.8L776.6 423.5L779.7 419.5L786.8 474.4L789.8 388.7L794.5 388.1L800 394.3L803.7 378.3L807.4 443.6L810.7 478.4L813.8 403.5L817.5 338.2L821.2 354.2L824.6 363.5L827.6 360.4L831.3 351.2L831.3 478.4ZM837.8 478.4L837.8 422L841.2 349.6L844.5 355.8L848.2 348.7L851.9 358.9L855.9 381.3L855.9 478.4ZM861.7 478.4L861.7 422L865.4 357.3L868.8 345.6L872.2 353.6L875.9 338.2L878.9 343.5L882.9 440.5L882.9 478.4Z" fill="#E24D42" fill-opacity="0.1" stroke="none"/>
<path d="M515.8 478.2L584.3 478.2M591 478.2L704.7 478.2L706.9 478.2M715.2 478L732.1 478M738.2 478.2L831.3 478M837.8 477.7L855.9 477.7M861.7 477.7L865.4 477.1L878.9 477.1L882.9 477.7" fill="none" stroke="#7EB26D" stroke-width="1.8" stroke-linejoin="round"/>
<path d="M515.8 478L584.3 478M591 478L704.7 477.7L706.9 477.7M715.2 477.4L732.1 477.4M738.2 477.7L786.8 477.7L789.8 476.5L808.3 476.5L810.7 478.4L813.8 477.1L831.3 476.8M837.8 476.8L844.5 474.4L848.2 471.9L851.9 474.4L855.9 475.3M861.7 475.9L865.4 468.2L868.8 465.1L872.2 465.7L875.9 461.4L878.9 465.1L882.9 475.9" fill="none" stroke="#EAB839" stroke-width="1.8" stroke-linejoin="round"/>
<path d="M515.8 477.7L535.7 477.7L539.4 476.8L542.8 477.7L584.3 477.4M591 477.1L638.6 477.7L644.8 476.8L704.7 476.8L706.9 477.1M715.2 474.4L719.2 471.3L721.6 472.8L725.3 466.7L728.7 475.3L732.1 474.4M738.2 471.3L742.2 460.5L745.3 466.7L749 474.4L752.4 468.2L756.1 471.3L760 477.4L763.7 477.4L769.3 469.7L772.9 466.7L776.6 468.2L779.7 467.6L786.8 477.4L790.5 454.3L793.5 457.4L796.9 452.2L800 452.8L803.7 432.8L807.4 465.1L810.7 478.4L813.8 455.9L817.5 426.6L821.2 437.4L824.6 442L827.6 432.8L831.3 434.3M837.8 462L841.2 434.3L844.5 426.6L848.2 424.5L851.9 435.9L855.9 442.9M861.7 459L865.4 429.7L868.8 412.8L872.2 420.5L875.9 406.6L878.9 418.9L882.9 460.5" fill="none" stroke="#6ED0E0" stroke-width="1.8" stroke-linejoin="round"/>
<path d="M515.8 477.4L535.7 477.4L539.4 475.3L542.8 477.1L563.4 477.7L569.5 476.2L584.3 476.2M591 475.9L606.4 476.2L611.6 478L616.2 476.2L632.5 475.9L638.6 477.4L643.2 469.7L650 465.7L657.1 471.3L663.2 477.4L670.3 469.7L677 474.4L683.2 472.8L686.9 478.4L693.9 469.7L698.5 471.3L701.6 470.7L704.7 472.8L706.9 474.4M714.6 462L718.3 439.9L721.6 449.7L724.7 440.5L728.7 466.7L732.1 463.6M738.2 459L742.2 422L745.9 437.4L749 465.1L752.4 443.6L756.1 459L760 476.8L762.8 475.9L765.9 452.8L769.3 449.7L772.9 435.9L776.6 442L779.7 437.4L786.8 475.9L790.5 418.9L796 417.4L800 414.3L803.7 398.9L807.4 452.8L810.7 478.4L813.8 425.1L817.5 378.9L821.2 388.1L824.6 397.4L827.6 391.2L831.3 386M837.8 442L841.2 382L844.5 388.7L848.2 384.4L851.9 392.7L855.9 409.1M861.7 442L865.4 386.6L868.8 375.2L872.2 382L875.9 369.6L878.9 375.8L882.9 443.6" fill="none" stroke="#EF843C" stroke-width="1.8" stroke-linejoin="round"/>
<path d="M515.8 477.1L535.7 477.1L539.4 473.4L542.8 476.5L546.5 475L551.1 476.5L555.7 475.3L563.4 477.4L569.5 475L581.8 474.4L584.3 475M591 474.4L594.7 473.1L606.4 475L611.6 478L616.2 475L632.5 474.4L637.1 477.4L644.8 452.8L649.4 449.7L654.6 455.9L660.1 465.1L663.2 475.9L666.9 462L670.3 450.3L674.6 465.1L680.1 471.9L683.8 458.3L686.9 478.4L690.3 455.9L693.9 448.2L697.9 459L704.7 459.6L707.8 471.3M714.6 452.8L718.3 408.1L721.6 423.5L724.7 418.9L728.7 455.9L732.1 446.6M738.2 455.9L742.2 392.7L745.3 403.5L749 449.7L752.4 422.6L755.4 443.6L760 475.9L762.8 474.4L765.9 428.2L769 431.2L772.9 412.8L776.6 423.5L779.7 419.5L786.8 474.4L789.8 388.7L794.5 388.1L800 394.3L803.7 378.3L807.4 443.6L810.7 478.4L813.8 403.5L817.5 338.2L821.2 354.2L824.6 363.5L827.6 360.4L831.3 351.2M837.8 422L841.2 349.6L844.5 355.8L848.2 348.7L851.9 358.9L855.9 381.3M861.7 422L865.4 357.3L868.8 345.6L872.2 353.6L875.9 338.2L878.9 343.5L882.9 440.5" fill="none" stroke="#E24D42" stroke-width="1.8" stroke-linejoin="round"/>
</svg>
<div class="title" style="left:0.3px;top:10.2px;width:447.9px">3 nodes, 36 vCPUs, 72 GB RAM: Latencies</div>
<div class="yl" style="left:0px;top:39.4px">800 ms</div>
<div class="yl" style="left:0px;top:77.2px">600 ms</div>
<div class="yl" style="left:0px;top:115px">400 ms</div>
<div class="yl" style="left:0px;top:152.8px">200 ms</div>
<div class="yl" style="left:0px;top:190.6px">0 ms</div>
<div class="xl" style="left:59.5px;top:203.2px">18:00</div>
<div class="xl" style="left:162.5px;top:203.2px">19:00</div>
<div class="xl" style="left:265.5px;top:203.2px">20:00</div>
<div class="xl" style="left:368.5px;top:203.2px">21:00</div>
<div class="lg" style="left:18.9px;top:228.1px"><i style="background:#7EB26D"></i>Latency (ms) 50th</div>
<div class="lg" style="left:133.6px;top:228.1px"><i style="background:#EAB839"></i>Latency (ms) 75th</div>
<div class="lg" style="left:248.3px;top:228.1px"><i style="background:#6ED0E0"></i>Latency (ms) 95th</div>
<div class="lg" style="left:18.9px;top:247px"><i style="background:#EF843C"></i>Latency (ms) 99th</div>
<div class="lg" style="left:133.6px;top:247px"><i style="background:#E24D42"></i>Latency (ms) 99.9th</div>
<svg class="rh" style="left:442px;top:264px" width="5" height="5" viewBox="0 0 5 5"><path d="M3 0H5V5H0V3H3Z" fill="#767678"/></svg>
<div class="title" style="left:460.4px;top:10.2px;width:447.9px">3 nodes, 16 vCPUs, 32 GB RAM: Latencies</div>
<div class="yl" style="left:460px;top:39.4px">1.5 s</div>
<div class="yl" style="left:460px;top:89.8px">1.0 s</div>
<div class="yl" style="left:460px;top:140.2px">500 ms</div>
<div class="yl" style="left:460px;top:190.6px">0 ms</div>
<div class="xl" style="left:519.5px;top:203.2px">18:00</div>
<div class="xl" style="left:622.5px;top:203.2px">19:00</div>
<div class="xl" style="left:725.5px;top:203.2px">20:00</div>
<div class="xl" style="left:828.5px;top:203.2px">21:00</div>
<div class="lg" style="left:478.9px;top:228.1px"><i style="background:#7EB26D"></i>Latency (ms) 50th</div>
<div class="lg" style="left:593.6px;top:228.1px"><i style="background:#EAB839"></i>Latency (ms) 75th</div>
<div class="lg" style="left:708.3px;top:228.1px"><i style="background:#6ED0E0"></i>Latency (ms) 95th</div>
<div class="lg" style="left:478.9px;top:247px"><i style="background:#EF843C"></i>Latency (ms) 99th</div>
<div class="lg" style="left:593.6px;top:247px"><i style="background:#E24D42"></i>Latency (ms) 99.9th</div>
<svg class="rh" style="left:902px;top:264px" width="5" height="5" viewBox="0 0 5 5"><path d="M3 0H5V5H0V3H3Z" fill="#767678"/></svg>
<div class="title" style="left:0.3px;top:290.2px;width:447.9px">5 nodes, 16 vCPUs, 32 GB RAM: Latencies</div>
<div class="yl" style="left:0px;top:319.4px">1.5 s</div>
<div class="yl" style="left:0px;top:369.8px">1.0 s</div>
<div class="yl" style="left:0px;top:420.2px">500 ms</div>
<div class="yl" style="left:0px;top:470.6px">0 ms</div>
<div class="xl" style="left:59.5px;top:483.2px">18:00</div>
<div class="xl" style="left:162.5px;top:483.2px">19:00</div>
<div class="xl" style="left:265.5px;top:483.2px">20:00</div>
<div class="xl" style="left:368.5px;top:483.2px">21:00</div>
<div class="lg" style="left:18.9px;top:508.1px"><i style="background:#7EB26D"></i>Latency (ms) 50th</div>
<div class="lg" style="left:133.6px;top:508.1px"><i style="background:#EAB839"></i>Latency (ms) 75th</div>
<div class="lg" style="left:248.3px;top:508.1px"><i style="background:#6ED0E0"></i>Latency (ms) 95th</div>
<div class="lg" style="left:18.9px;top:527px"><i style="background:#EF843C"></i>Latency (ms) 99th</div>
<div class="lg" style="left:133.6px;top:527px"><i style="background:#E24D42"></i>Latency (ms) 99.9th</div>
<svg class="rh" style="left:442px;top:544px" width="5" height="5" viewBox="0 0 5 5"><path d="M3 0H5V5H0V3H3Z" fill="#767678"/></svg>
<div class="title" style="left:460.4px;top:290.2px;width:447.9px">7 nodes, 16 vCPUs, 32 GB RAM: Latencies</div>
<div class="yl" style="left:460px;top:319.4px">1.0 s</div>
<div class="yl" style="left:460px;top:357.2px">750 ms</div>
<div class="yl" style="left:460px;top:395px">500 ms</div>
<div class="yl" style="left:460px;top:432.8px">250 ms</div>
<div class="yl" style="left:460px;top:470.6px">0 ms</div>
<div class="xl" style="left:519.5px;top:483.2px">18:00</div>
<div class="xl" style="left:622.5px;top:483.2px">19:00</div>
<div class="xl" style="left:725.5px;top:483.2px">20:00</div>
<div class="xl" style="left:828.5px;top:483.2px">21:00</div>
<div class="lg" style="left:478.9px;top:508.1px"><i style="background:#7EB26D"></i>Latency (ms) 50th</div>
<div class="lg" style="left:593.6px;top:508.1px"><i style="background:#EAB839"></i>Latency (ms) 75th</div>
<div class="lg" style="left:708.3px;top:508.1px"><i style="background:#6ED0E0"></i>Latency (ms) 95th</div>
<div class="lg" style="left:478.9px;top:527px"><i style="background:#EF843C"></i>Latency (ms) 99th</div>
<div class="lg" style="left:593.6px;top:527px"><i style="background:#E24D42"></i>Latency (ms) 99.9th</div>
<svg class="rh" style="left:902px;top:544px" width="5" height="5" viewBox="0 0 5 5"><path d="M3 0H5V5H0V3H3Z" fill="#767678"/></svg>
</body></html>
